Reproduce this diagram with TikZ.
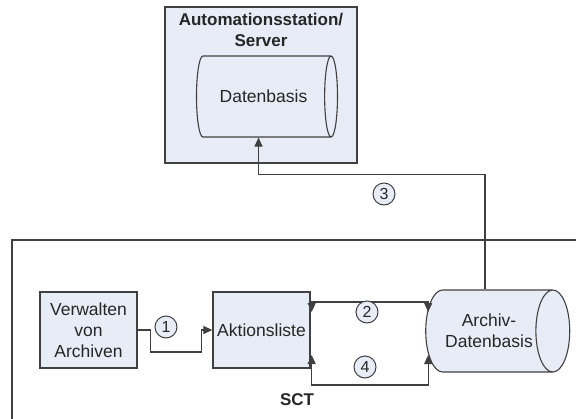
\documentclass[tikz,border=0pt]{standalone}
\usepackage{fontspec}
\setmainfont{Liberation Sans}
\usetikzlibrary{shapes.geometric,arrows.meta,calc}
\definecolor{boxfill}{HTML}{E8ECF6}
\definecolor{linegray}{HTML}{404040}
\tikzset{vtip/.tip={Triangle[length=9pt,width=8pt]}}

\begin{document}
\begin{tikzpicture}[x=1pt, y=-1pt,
  every node/.style={font=\fontsize{17.5}{21}\selectfont, text=black!85},
  box/.style={draw=linegray, fill=boxfill, line width=1.3pt, align=center, inner sep=0pt},
  drum/.style={cylinder, draw=linegray, fill=boxfill, line width=1.1pt, aspect=1.0, align=center, inner sep=0pt},
  num/.style={circle, draw=linegray, fill=boxfill, line width=1pt, minimum size=22pt, inner sep=0pt, font=\fontsize{16}{19}\selectfont},
  flow/.style={draw=linegray, line width=1.1pt}]
\useasboundingbox (0,0) rectangle (576,418);
% SCT frame
\draw[linegray, line width=1.1pt] (12,430) -- (12,240) -- (590,240);
\node[font=\bfseries\fontsize{17}{21}\selectfont] (sct) at (297,400) {SCT};
% server
\node[box, minimum width=192pt, minimum height=156pt] (srv) at (261,85) {};
\node[font=\bfseries\fontsize{17}{21}\selectfont, align=center] (srvtitle) at (261,30) {Automationsstation/\\Server};
\node[drum, minimum height=141pt, minimum width=81pt] (dat) at (263.5,96.5) {Datenbasis};
% SCT content
\node[box, minimum width=97pt, minimum height=76pt] (ver) at (88.5,330) {Verwalten\\von\\Archiven};
\node[box, minimum width=97pt, minimum height=76pt] (akt) at (261.5,330) {Aktionsliste};
\node[drum, minimum height=144pt, minimum width=82pt] (arc) at (489,331) {Archiv-\\Datenbasis};
% connectors
\draw[flow, -vtip] (ver.east) -- ++(13,0) -- ++(0,22) -| ($(akt.west)+(-11,0)$) -- (akt.west);
\draw[flow, vtip-vtip] ($(akt.east)+(1,-18)$) -- ++(0,-10) -| ($(arc.west)+(3,-19)$);
\draw[flow, vtip-vtip] ($(akt.east)+(1,25)$) -- ++(0,30) -| ($(arc.west)+(3,24)$);
\draw[flow, -vtip] ($(arc.north)+(-4,0)$) -- ++(0,-115) -| ($(dat.south)+(-5,0)$);
% numbers
\node[num] (n1) at (166,327) {1};
\node[num] (n2) at (367,312) {2};
\node[num] (n3) at (384,194) {3};
\node[num] (n4) at (365,367) {4};
\end{tikzpicture}
\end{document}
